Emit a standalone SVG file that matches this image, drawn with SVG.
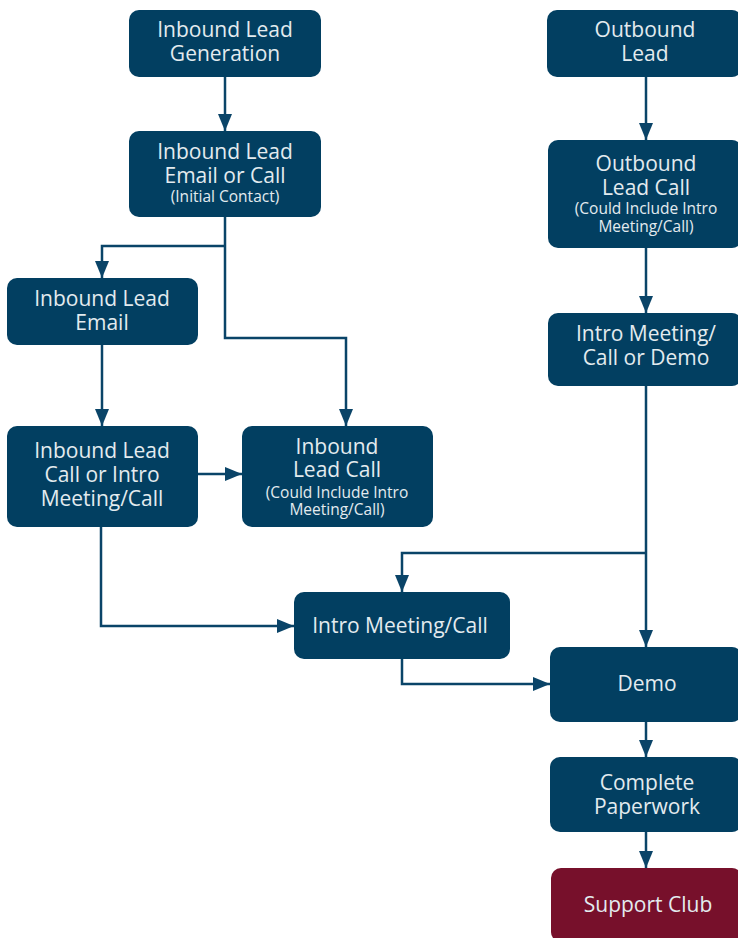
<svg xmlns="http://www.w3.org/2000/svg" width="738" height="938" viewBox="0 0 738 938">
<style>
.n{fill:#023f61}
.r{fill:#77102b}
.t{font-family:"Open Sans",Lato,sans-serif;font-size:21px;fill:#e3ebef;text-anchor:middle}
.s{font-family:"Open Sans",Lato,sans-serif;font-size:15.5px;fill:#e3ebef;text-anchor:middle}
.c{fill:none;stroke:#0a4468;stroke-width:2.5}
</style>
<defs>
<marker id="a" viewBox="0 0 17 14" refX="17" refY="7" markerWidth="17" markerHeight="14" markerUnits="userSpaceOnUse" orient="auto">
<path d="M0,0 L17,7 L0,14 z" fill="#0a4468"/>
</marker>
</defs>
<rect width="738" height="938" fill="#ffffff"/>
<g id="connectors">
<path class="c" d="M225,77 V131" marker-end="url(#a)"/>
<path class="c" d="M225,217 V338 H346 V426" marker-end="url(#a)"/>
<path class="c" d="M225,246 H102 V278" marker-end="url(#a)"/>
<path class="c" d="M102,345 V426" marker-end="url(#a)"/>
<path class="c" d="M198,474 H242" marker-end="url(#a)"/>
<path class="c" d="M101,527 V626 H294" marker-end="url(#a)"/>
<path class="c" d="M646,77 V140" marker-end="url(#a)"/>
<path class="c" d="M646,248 V313" marker-end="url(#a)"/>
<path class="c" d="M646,386 V647" marker-end="url(#a)"/>
<path class="c" d="M646,553 H402 V592" marker-end="url(#a)"/>
<path class="c" d="M402,659 V684 H550" marker-end="url(#a)"/>
<path class="c" d="M646,721 V757" marker-end="url(#a)"/>
<path class="c" d="M646,832 V868" marker-end="url(#a)"/>
</g>
<g id="inbound-lead-generation">
<rect class="n" x="129" y="10" width="192" height="67" rx="10"/>
<text class="t" x="225" y="37">Inbound Lead</text>
<text class="t" x="225" y="61">Generation</text>
</g>
<g id="inbound-lead-email-or-call">
<rect class="n" x="129" y="131" width="192" height="86" rx="10"/>
<text class="t" x="225" y="159">Inbound Lead</text>
<text class="t" x="225" y="183">Email or Call</text>
<text class="s" x="225" y="202">(Initial Contact)</text>
</g>
<g id="inbound-lead-email">
<rect class="n" x="7" y="278" width="191" height="67" rx="10"/>
<text class="t" x="102" y="306">Inbound Lead</text>
<text class="t" x="102" y="330">Email</text>
</g>
<g id="inbound-lead-call-or-intro">
<rect class="n" x="7" y="426" width="191" height="101" rx="10"/>
<text class="t" x="102" y="458">Inbound Lead</text>
<text class="t" x="102" y="482">Call or Intro</text>
<text class="t" x="102" y="506">Meeting/Call</text>
</g>
<g id="inbound-lead-call">
<rect class="n" x="242" y="426" width="191" height="101" rx="10"/>
<text class="t" x="337" y="454">Inbound</text>
<text class="t" x="337" y="477">Lead Call</text>
<text class="s" x="337" y="498">(Could Include Intro</text>
<text class="s" x="337" y="515">Meeting/Call)</text>
</g>
<g id="outbound-lead">
<rect class="n" x="547" y="10" width="195" height="67" rx="10"/>
<text class="t" x="645" y="37">Outbound</text>
<text class="t" x="645" y="61">Lead</text>
</g>
<g id="outbound-lead-call">
<rect class="n" x="548" y="140" width="194" height="108" rx="10"/>
<text class="t" x="646" y="171">Outbound</text>
<text class="t" x="646" y="195">Lead Call</text>
<text class="s" x="646" y="214">(Could Include Intro</text>
<text class="s" x="646" y="232">Meeting/Call)</text>
</g>
<g id="intro-meeting-call-or-demo">
<rect class="n" x="548" y="313" width="194" height="73" rx="10"/>
<text class="t" x="646" y="341">Intro Meeting/</text>
<text class="t" x="646" y="365">Call or Demo</text>
</g>
<g id="intro-meeting-call">
<rect class="n" x="294" y="592" width="216" height="67" rx="10"/>
<text class="t" x="400" y="633">Intro Meeting/Call</text>
</g>
<g id="demo">
<rect class="n" x="550" y="647" width="192" height="75" rx="10"/>
<text class="t" x="647" y="691">Demo</text>
</g>
<g id="complete-paperwork">
<rect class="n" x="550" y="757" width="192" height="75" rx="10"/>
<text class="t" x="647" y="790">Complete</text>
<text class="t" x="647" y="814">Paperwork</text>
</g>
<g id="support-club">
<rect class="r" x="551" y="868" width="191" height="74" rx="10"/>
<text class="t" x="648" y="912">Support Club</text>
</g>
</svg>
